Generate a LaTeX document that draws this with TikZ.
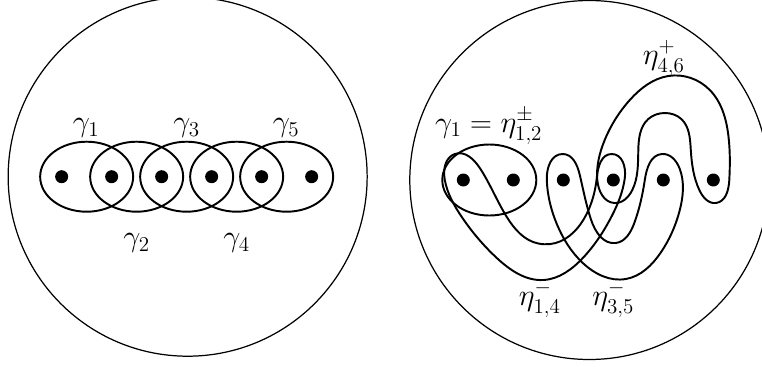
\documentclass[tikz,border=0pt]{standalone}
\usepackage{amsmath,amssymb}
\usepackage{tikz}
\usetikzlibrary{positioning,calc,hobby}

\begin{document}
\begin{tikzpicture}[
    x=1cm, y=1cm,
    disk/.style={draw, line width=0.7pt},
    puncture/.style={circle, fill=black, inner sep=0pt, minimum size=0.26cm},
    loopcurve/.style={draw, line width=1.1pt},
    arccurve/.style={draw, line width=1.1pt, use Hobby shortcut, closed=true},
    curvelabel/.style={font=\LARGE, inner sep=0pt}
]
\useasboundingbox (0,0) rectangle (15.24,7.32);

% Left disk: chain of curves
\begin{scope}[shift={(0.233,3.786)}]
\draw[disk] (3.52,0) circle (3.59);

\draw[loopcurve] (1.5,0) ellipse (0.93 and 0.70);
\draw[loopcurve] (2.5,0) ellipse (0.93 and 0.70);
\draw[loopcurve] (3.5,0) ellipse (0.93 and 0.70);
\draw[loopcurve] (4.5,0) ellipse (0.93 and 0.70);
\draw[loopcurve] (5.5,0) ellipse (0.93 and 0.70);

\node[puncture] (l1) at (1,0) {};
\node[puncture] (l2) at (2,0) {};
\node[puncture] (l3) at (3,0) {};
\node[puncture] (l4) at (4,0) {};
\node[puncture] (l5) at (5,0) {};
\node[puncture] (l6) at (6,0) {};

\node[curvelabel] (g1) at (1.49,0.97) {$\gamma_1$};
\node[curvelabel] (g3) at (3.5,0.97) {$\gamma_3$};
\node[curvelabel] (g5) at (5.49,0.97) {$\gamma_5$};
\node[curvelabel] (g2) at (2.5,-1.33) {$\gamma_2$};
\node[curvelabel] (g4) at (4.5,-1.33) {$\gamma_4$};
\end{scope}

% Right disk: eta curves
\begin{scope}[shift={(8.266,3.72)}]
\draw[disk] (3.52,0) circle (3.59);

% gamma_1 = eta_{1,2}
\draw[loopcurve] (1.52,0) ellipse (0.94 and 0.71);

% eta^-_{1,4}
\draw[arccurve] (0.83,0.52) .. (0.63,0.0) .. (0.97,-0.74) .. (1.67,-1.56)
  .. (2.6,-2.0) .. (3.4,-1.55) .. (3.97,-0.72) .. (4.23,0.04)
  .. (3.97,0.52) .. (3.67,0.05) .. (2.5,-1.27)
  .. (1.87,-0.74) .. (1.33,0.24);

% eta^-_{3,5}
\draw[arccurve] (2.99,0.52) .. (2.67,0.0) .. (2.87,-0.88) .. (3.39,-1.66)
  .. (4.25,-1.98) .. (4.95,-1.45) .. (5.33,-0.6) .. (5.33,0.22)
  .. (4.97,0.52) .. (4.63,0.0) .. (4.42,-0.86) .. (4.05,-1.26)
  .. (3.55,-0.78) .. (3.33,0.1);

% eta^+_{4,6}
\draw[arccurve] (4.02,-0.46) .. (3.68,0.0) .. (3.82,0.78) .. (4.33,1.6)
  .. (5.1,2.08) .. (5.93,1.8) .. (6.3,0.9) .. (6.32,0.0)
  .. (6.05,-0.46) .. (5.72,-0.2) .. (5.55,0.6) .. (5.36,1.22)
  .. (5.03,1.34) .. (4.70,1.22) .. (4.5,0.6) .. (4.38,-0.2);

\node[puncture] (r1) at (1,0) {};
\node[puncture] (r2) at (2,0) {};
\node[puncture] (r3) at (3,0) {};
\node[puncture] (r4) at (4,0) {};
\node[puncture] (r5) at (5,0) {};
\node[puncture] (r6) at (6,0) {};

\node[curvelabel] (e12) at (1.51,1.08) {$\gamma_1 = \eta^{\pm}_{1,2}$};
\node[curvelabel] (e46) at (5.01,2.44) {$\eta^{+}_{4,6}$};
\node[curvelabel] (e14) at (2.53,-2.38) {$\eta^{-}_{1,4}$};
\node[curvelabel] (e35) at (4.0,-2.38) {$\eta^{-}_{3,5}$};
\end{scope}

\end{tikzpicture}
\end{document}
